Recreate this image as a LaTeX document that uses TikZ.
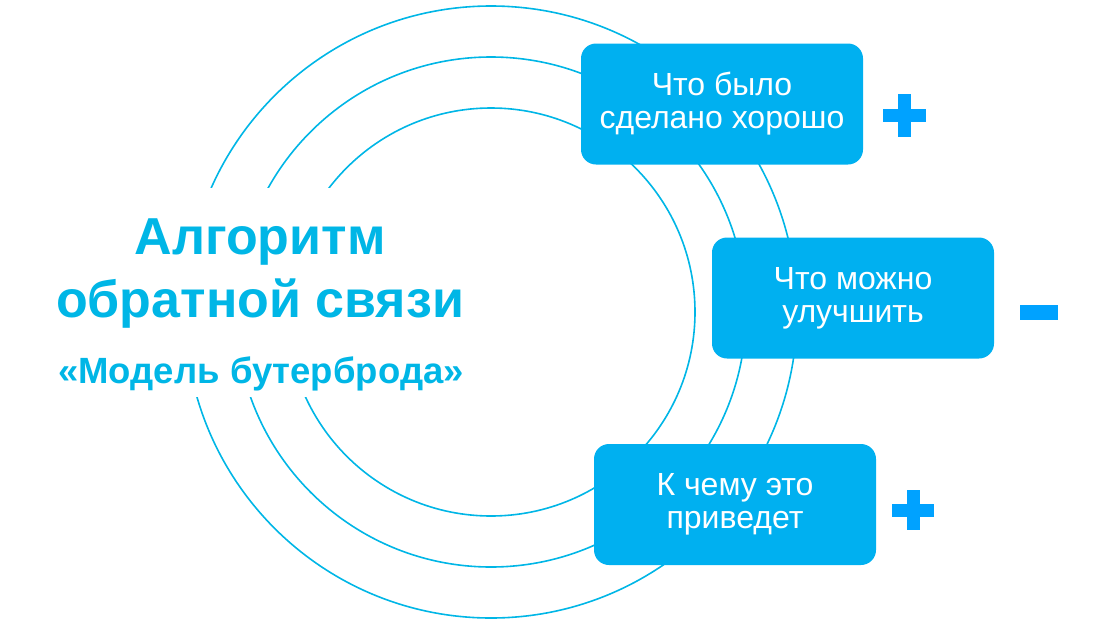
\documentclass[tikz,border=0pt]{standalone}
\usepackage{fontspec}
\setmainfont{Liberation Sans}
\usetikzlibrary{positioning}
\definecolor{ringblue}{RGB}{0,182,230}
\definecolor{boxblue}{RGB}{0,176,240}
\definecolor{signblue}{RGB}{0,162,255}

\begin{document}
\begin{tikzpicture}[x=1pt,y=-1pt,
  ring/.style={draw=ringblue,line width=1.6pt},
  qbox/.style={fill=boxblue,rounded corners=15pt,minimum width=282pt,minimum height=121pt,
    text=white,align=center,font=\fontsize{32}{33}\selectfont},
  ttl/.style={text=ringblue,font=\bfseries\fontsize{52}{60}\selectfont,anchor=base},
  sgnh/.style={fill=signblue,inner sep=0pt,minimum width=43pt,minimum height=13pt},
  sgnv/.style={fill=signblue,inner sep=0pt,minimum width=13pt,minimum height=43pt}]

  \useasboundingbox (0,0) rectangle (1095,627);

  \coordinate (c) at (491,312);
  % the three rings
  \foreach \r in {306,255,204}
    \draw[ring] (c) circle[radius=\r pt];

  % white band behind the title
  \node[fill=white,minimum width=450pt,minimum height=209pt,inner sep=0pt] (mask) at (260,292.5) {};
  \node[ttl] (t1) at (260,254) {Алгоритм};
  \node[ttl] (t2) at (260,317) {обратной связи};
  \node[ttl,font=\bfseries\fontsize{36.5}{40}\selectfont] (t3) at (261,383) {«Модель бутерброда»};

  % question boxes
  \node[qbox] (q1) at (722,104) {Что было\\сделано хорошо};
  \node[qbox] (q2) at (853,298) {Что можно\\улучшить};
  \node[qbox] (q3) at (735,504.5) {К чему это\\приведет};

  % signs next to the boxes
  \node[sgnh,right=20pt of q1,yshift=-11.5pt] (p1h) {};
  \node[sgnv] (p1v) at (p1h) {};
  \node[sgnh,minimum width=38pt,minimum height=15pt,right=26pt of q2,yshift=-14.5pt] (m2) {};
  \node[sgnh,minimum width=42pt,right=16pt of q3,yshift=-5.5pt] (p3h) {};
  \node[sgnv,minimum height=40pt] (p3v) at (p3h) {};

\end{tikzpicture}
\end{document}
